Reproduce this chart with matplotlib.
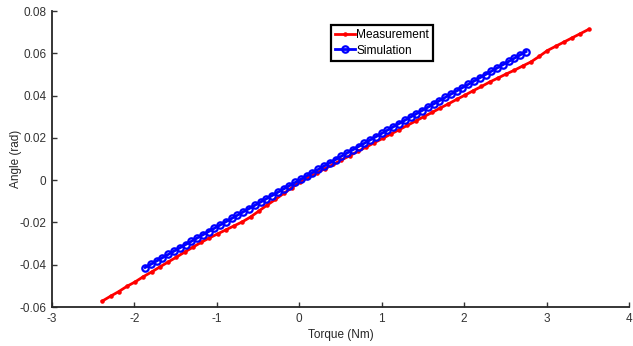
import matplotlib
matplotlib.use("Agg")
import matplotlib.pyplot as plt

# ---- data ----
meas_torque = [-2.39, -2.29, -2.19, -2.09, -1.99, -1.89, -1.79, -1.69, -1.59, -1.49,
               -1.39, -1.29, -1.19, -1.09, -0.99, -0.89, -0.79, -0.69, -0.59, -0.49,
               -0.39, -0.29, -0.19, -0.09, 0.01, 0.11, 0.21, 0.31, 0.41, 0.51,
               0.61, 0.71, 0.81, 0.91, 1.01, 1.11, 1.21, 1.31, 1.41, 1.51,
               1.61, 1.71, 1.81, 1.91, 2.01, 2.11, 2.21, 2.31, 2.41, 2.51,
               2.61, 2.71, 2.81, 2.91, 3.01, 3.11, 3.21, 3.31, 3.41, 3.51]
meas_angle = [-0.0572, -0.0549, -0.0527, -0.0502, -0.0481, -0.0456, -0.0434, -0.0410, -0.0387, -0.0364,
              -0.0340, -0.0317, -0.0294, -0.0273, -0.0254, -0.0235, -0.0216, -0.0197, -0.0174, -0.0146,
              -0.0118, -0.0091, -0.0063, -0.0036, -0.0008, 0.0013, 0.0033, 0.0054, 0.0074, 0.0095,
              0.0115, 0.0136, 0.0156, 0.0177, 0.0197, 0.0218, 0.0238, 0.0259, 0.0279, 0.0300,
              0.0320, 0.0341, 0.0361, 0.0382, 0.0402, 0.0423, 0.0443, 0.0464, 0.0483, 0.0502,
              0.0520, 0.0540, 0.0559, 0.0585, 0.0613, 0.0633, 0.0653, 0.0673, 0.0693, 0.0713]

sim_torque = [-1.87, -1.80, -1.73, -1.66, -1.59, -1.52, -1.45, -1.38, -1.31, -1.24,
              -1.17, -1.10, -1.03, -0.96, -0.89, -0.82, -0.75, -0.68, -0.61, -0.54,
              -0.47, -0.40, -0.33, -0.26, -0.19, -0.12, -0.05, 0.02, 0.09, 0.16,
              0.23, 0.30, 0.37, 0.44, 0.51, 0.58, 0.65, 0.72, 0.79, 0.86,
              0.93, 1.00, 1.07, 1.14, 1.21, 1.28, 1.35, 1.42, 1.49, 1.56,
              1.63, 1.70, 1.77, 1.84, 1.91, 1.98, 2.05, 2.12, 2.19, 2.26,
              2.33, 2.40, 2.47, 2.54, 2.61, 2.68, 2.75]
sim_angle = [-0.04133, -0.03978, -0.03823, -0.03669, -0.03514, -0.03359, -0.03205, -0.03050, -0.02895, -0.02740,
             -0.02586, -0.02431, -0.02276, -0.02122, -0.01967, -0.01812, -0.01658, -0.01503, -0.01348, -0.01193,
             -0.01039, -0.00884, -0.00729, -0.00575, -0.00420, -0.00265, -0.00111, 0.00044, 0.00199, 0.00354,
             0.00508, 0.00663, 0.00818, 0.00972, 0.01127, 0.01282, 0.01437, 0.01591, 0.01746, 0.01901,
             0.02055, 0.02210, 0.02365, 0.02519, 0.02674, 0.02829, 0.02984, 0.03138, 0.03293, 0.03448,
             0.03602, 0.03757, 0.03912, 0.04066, 0.04221, 0.04376, 0.04531, 0.04685, 0.04840, 0.04995,
             0.05149, 0.05304, 0.05459, 0.05613, 0.05768, 0.05923, 0.06078]

x_ticks = [-3, -2, -1, 0, 1, 2, 3, 4]
x_tick_labels = ["-3", "-2", "-1", "0", "1", "2", "3", "4"]
y_ticks = [-0.06, -0.04, -0.02, 0, 0.02, 0.04, 0.06, 0.08]
y_tick_labels = ["-0.06", "-0.04", "-0.02", "0", "0.02", "0.04", "0.06", "0.08"]

plt.rcParams['font.family'] = ['Liberation Sans', 'DejaVu Sans']

fig = plt.figure(figsize=(6.33, 3.46), dpi=100)
ax = fig.add_axes([52/633, 39/346, 577/633, 296/346])

ax.plot(meas_torque, meas_angle, color='#ff0000', lw=2.0, marker='.', ms=4.5,
        label='Measurement')
ax.plot(sim_torque, sim_angle, color='#0000ff', lw=2.0, marker='o', ms=4.6,
        mfc='none', mew=1.6, label='Simulation')

ax.set_xlim(-3, 4)
ax.set_ylim(-0.06, 0.08)
ax.set_xticks(x_ticks)
ax.set_xticklabels(x_tick_labels)
ax.set_yticks(y_ticks)
ax.set_yticklabels(y_tick_labels)

for s in ['top', 'right']:
    ax.spines[s].set_visible(False)
for s in ['left', 'bottom']:
    ax.spines[s].set_linewidth(1.3)
    ax.spines[s].set_color('#262626')

ax.tick_params(direction='in', length=3.5, width=1.0, colors='#333333',
               labelsize=8.5, pad=4)
ax.set_xlabel('Torque (Nm)', fontsize=8.5, color='#262626', labelpad=3)
ax.set_ylabel('Angle (rad)', fontsize=8.5, color='#262626', labelpad=-2)

leg = ax.legend(loc='upper left', bbox_to_anchor=(0.484, 0.953), fontsize=8.6,
                frameon=True, fancybox=False, framealpha=1, edgecolor='black',
                handlelength=1.6, handletextpad=0.15, borderpad=0.35,
                labelspacing=0.3, borderaxespad=0)
leg.get_frame().set_linewidth(1.6)

fig.savefig('out.png', dpi=100)
